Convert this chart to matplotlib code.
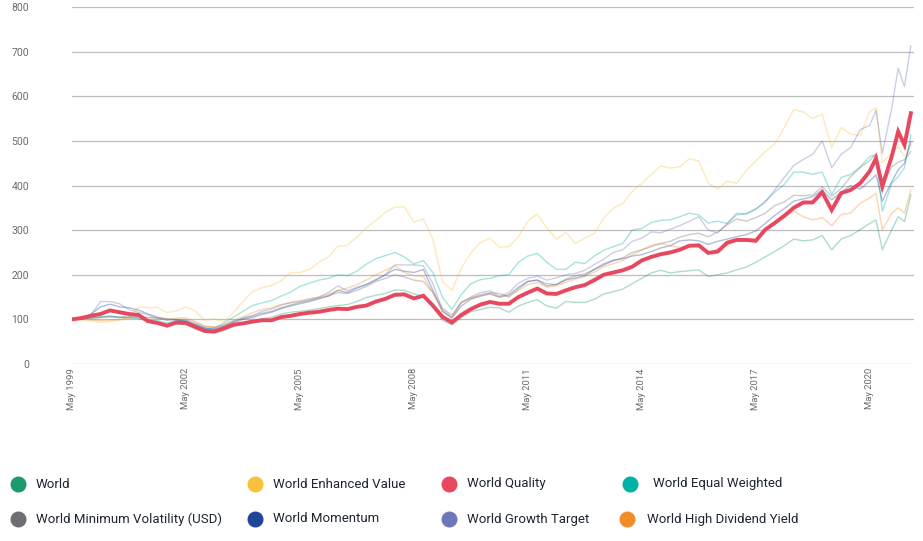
"""Rebased performance of MSCI World factor indices, World Quality highlighted."""

import matplotlib

matplotlib.use("Agg")
import matplotlib.pyplot as plt
from matplotlib.lines import Line2D

plt.rcParams["font.family"] = ["Roboto", "DejaVu Sans"]

# month index since May 1999 (quarterly, denser at the end)
MONTHS = list(range(0, 247, 3)) + [249, 252, 254, 256, 259, 261, 263, 265]
TICK_MONTHS = [0, 36, 72, 108, 144, 180, 216, 252]
TICK_LABELS = ["May 1999", "May 2002", "May 2005", "May 2008",
               "May 2011", "May 2014", "May 2017", "May 2020"]
Y_TICKS = [0, 100, 200, 300, 400, 500, 600, 700, 800]

WORLD = [
    100, 102, 104, 106, 108, 105, 104, 102, 96, 93, 86, 90,
    88, 78, 71, 69, 75, 84, 90, 96, 101, 105, 112, 116,
    118, 121, 124, 128, 131, 133, 140, 149, 154, 158, 166, 165,
    157, 152, 128, 98, 88, 104, 117, 122, 127, 126, 116, 130,
    138, 144, 130, 125, 140, 138, 138, 145, 157, 162, 168, 180,
    192, 204, 210, 204, 207, 209, 211, 196, 200, 204, 211, 217,
    228, 240, 252, 265, 280, 276, 278, 288, 256, 280, 288,
    301, 315, 323, 256, 301, 330, 319, 379,
]
ENHANCED_VALUE = [
    100, 99, 97, 93, 95, 98, 104, 128, 126, 127, 115, 119,
    128, 118, 98, 101, 95, 115, 140, 162, 171, 176, 186, 205,
    205, 212, 228, 240, 264, 266, 285, 305, 322, 340, 352, 352,
    318, 325, 280, 185, 165, 215, 249, 272, 282, 262, 263, 285,
    320, 336, 305, 280, 295, 270, 282, 293, 327, 349, 360, 387,
    405, 425, 444, 439, 442, 460, 455, 405, 392, 410, 405, 433,
    455, 476, 493, 530, 570, 565, 550, 560, 485, 530, 515,
    512, 565, 575, 452, 472, 487, 465, 490,
]
QUALITY = [
    100, 103, 108, 112, 120, 116, 112, 110, 96, 92, 86, 93,
    92, 83, 74, 73, 80, 88, 91, 95, 98, 98, 105, 108,
    112, 115, 117, 121, 124, 123, 128, 131, 140, 146, 155, 156,
    147, 153, 131, 106, 93, 110, 123, 133, 139, 135, 135, 150,
    160, 169, 158, 157, 165, 172, 177, 188, 200, 205, 210, 218,
    232, 240, 246, 250, 256, 265, 266, 249, 252, 272, 278, 278,
    276, 301, 316, 332, 350, 362, 362, 385, 345, 383, 390,
    405, 432, 461, 398, 466, 521, 491, 562,
]
EQUAL_WEIGHTED = [
    100, 101, 103, 105, 106, 104, 104, 103, 98, 97, 92, 97,
    97, 88, 80, 80, 92, 105, 118, 131, 137, 142, 152, 161,
    174, 181, 188, 192, 200, 198, 208, 224, 236, 243, 250, 240,
    224, 232, 205, 150, 122, 156, 180, 189, 192, 198, 200, 228,
    242, 248, 228, 212, 212, 228, 225, 242, 255, 263, 270, 300,
    304, 317, 322, 323, 330, 338, 334, 316, 320, 315, 334, 337,
    346, 365, 385, 402, 430, 430, 425, 430, 380, 418, 425,
    442, 465, 468, 342, 405, 420, 440, 513,
]
MIN_VOLATILITY = [
    100, 101, 102, 104, 106, 105, 106, 106, 104, 103, 98, 100,
    99, 92, 84, 82, 87, 96, 102, 108, 114, 118, 126, 132,
    138, 142, 148, 153, 160, 158, 165, 174, 185, 192, 200, 195,
    188, 185, 160, 125, 110, 138, 148, 155, 160, 158, 150, 168,
    185, 188, 180, 178, 190, 198, 202, 212, 225, 232, 238, 250,
    256, 263, 270, 275, 284, 290, 293, 285, 296, 312, 325, 320,
    328, 338, 355, 363, 378, 377, 379, 397, 376, 393, 420,
    440, 456, 472, 398, 442, 452, 458, 476,
]
MOMENTUM = [
    100, 102, 112, 128, 134, 128, 126, 121, 112, 105, 101, 99,
    96, 88, 80, 78, 84, 93, 100, 104, 111, 116, 124, 130,
    135, 140, 146, 152, 165, 160, 170, 178, 188, 200, 212, 208,
    205, 212, 165, 118, 103, 130, 145, 152, 157, 150, 155, 172,
    185, 188, 175, 178, 188, 193, 198, 212, 222, 232, 236, 242,
    245, 252, 260, 265, 276, 278, 276, 268, 275, 280, 285, 290,
    298, 315, 333, 348, 365, 370, 375, 390, 368, 385, 400,
    392, 410, 424, 365, 409, 435, 450, 498,
]
GROWTH_TARGET = [
    100, 103, 110, 140, 140, 135, 122, 116, 110, 102, 100, 99,
    95, 88, 80, 78, 85, 95, 103, 108, 118, 123, 132, 137,
    140, 145, 150, 160, 175, 164, 172, 178, 190, 200, 222, 222,
    222, 220, 180, 122, 105, 138, 150, 160, 164, 152, 160, 181,
    192, 197, 188, 193, 200, 203, 210, 223, 235, 250, 256, 275,
    282, 296, 294, 302, 310, 320, 330, 300, 294, 315, 338, 336,
    348, 362, 390, 418, 445, 458, 470, 500, 440, 470, 485,
    525, 535, 569, 472, 575, 663, 622, 713,
]
HIGH_DIVIDEND = [
    100, 101, 99, 97, 98, 100, 103, 106, 104, 104, 100, 103,
    103, 95, 85, 83, 88, 98, 106, 115, 122, 126, 133, 138,
    142, 146, 150, 156, 165, 170, 178, 188, 200, 210, 220, 205,
    198, 196, 160, 118, 104, 138, 148, 153, 158, 150, 153, 165,
    178, 183, 172, 175, 183, 190, 196, 206, 218, 225, 232, 245,
    255, 266, 270, 265, 261, 263, 262, 246, 258, 265, 278, 280,
    280, 300, 315, 328, 343, 330, 323, 328, 310, 335, 338,
    360, 372, 383, 301, 338, 350, 338, 390,
]

COLORS = {
    "World": "#1b9a6c",
    "World Enhanced Value": "#fbc03a",
    "World Quality": "#e8485f",
    "World Equal Weighted": "#00b2a5",
    "World Minimum Volatility (USD)": "#6e6f73",
    "World Momentum": "#1f449a",
    "World Growth Target": "#6c78ba",
    "World High Dividend Yield": "#f28c28",
}

SERIES = {
    "World": WORLD,
    "World Enhanced Value": ENHANCED_VALUE,
    "World Quality": QUALITY,
    "World Equal Weighted": EQUAL_WEIGHTED,
    "World Minimum Volatility (USD)": MIN_VOLATILITY,
    "World Momentum": MOMENTUM,
    "World Growth Target": GROWTH_TARGET,
    "World High Dividend Yield": HIGH_DIVIDEND,
}
HIGHLIGHT = "World Quality"

# legend layout in pixels: (marker x, text x, y)
LEGEND_SLOTS = {
    "World": (18, 36, 484),
    "World Enhanced Value": (255, 273, 484),
    "World Quality": (449, 467, 484),
    "World Equal Weighted": (630, 653, 484),
    "World Minimum Volatility (USD)": (18, 36, 519),
    "World Momentum": (255, 273, 519),
    "World Growth Target": (449, 467, 519),
    "World High Dividend Yield": (627, 647, 519),
}

W, H = 923, 541


def main() -> None:
    fig = plt.figure(figsize=(W / 100, H / 100), dpi=100, facecolor="white")
    ax = fig.add_axes([72 / W, 1 - 364 / H, (914 - 72) / W, (364 - 7) / H])

    for name, values in SERIES.items():
        if name == HIGHLIGHT:
            continue
        ax.plot(MONTHS, values, color=COLORS[name], linewidth=1.0, alpha=0.35, zorder=2)
    ax.plot(MONTHS, SERIES[HIGHLIGHT], color=COLORS[HIGHLIGHT], linewidth=2.8,
            solid_joinstyle="miter", zorder=3)

    ax.set_xlim(0, 266)
    ax.set_ylim(0, 800)
    ax.set_yticks(Y_TICKS)
    ax.set_xticks(TICK_MONTHS, TICK_LABELS, rotation=90, va="top", ha="center")
    ax.yaxis.grid(True, color="#bdbdbd", linewidth=0.9)
    ax.set_axisbelow(True)
    for spine in ax.spines.values():
        spine.set_visible(False)
    ax.tick_params(axis="y", length=0, pad=31, labelsize=7.5, labelcolor="#6b6b6b")
    ax.tick_params(axis="x", length=0, pad=3, labelsize=6.8, labelcolor="#6b6b6b")

    for name, (mx, tx, y) in LEGEND_SLOTS.items():
        fig.add_artist(Line2D([mx / W], [1 - y / H], marker="o", markersize=10.5,
                              color=COLORS[name], linestyle="none",
                              transform=fig.transFigure))
        fig.text(tx / W, 1 - y / H, name, fontsize=9.5, color="#1f2533",
                 va="center", ha="left")

    fig.savefig("out.png", dpi=100, facecolor="white")
    plt.close(fig)


if __name__ == "__main__":
    main()
